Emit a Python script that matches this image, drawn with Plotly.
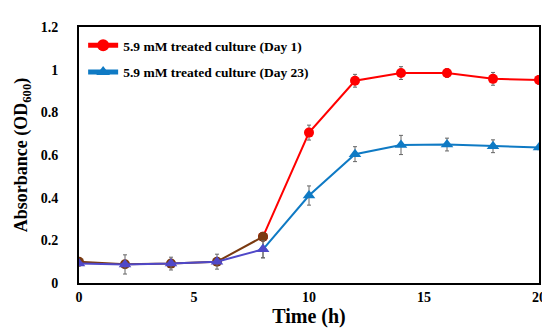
import plotly.graph_objects as go

time_h = [0, 2, 4, 6, 8, 10, 12, 14, 16, 18, 20]
day1 = [0.10, 0.088, 0.091, 0.10, 0.217, 0.705, 0.948, 0.984, 0.984, 0.957, 0.952]
day1_err = [0.01, 0.01, 0.01, 0.01, 0.01, 0.035, 0.03, 0.03, 0.02, 0.03, 0.02]
day23 = [0.091, 0.087, 0.091, 0.10, 0.158, 0.41, 0.604, 0.647, 0.649, 0.641, 0.635]
day23_err = [0.01, 0.045, 0.03, 0.035, 0.04, 0.045, 0.035, 0.045, 0.03, 0.03, 0.01]
names = ["5.9 mM treated culture (Day 1)", "5.9 mM treated culture (Day 23)"]

RED = "#ff0000"
BLUE = "#0f7ac4"
BROWN = "#7a3a10"
PURPLE = "#5048c8"
ERR = "#666666"
FONT = "Liberation Serif"

fig = go.Figure()
split = 5  # index where early (blended-looking) segment ends

fig.add_trace(go.Scatter(
    x=time_h[split-1:], y=day1[split-1:], mode="lines+markers",
    line=dict(color=RED, width=2), marker=dict(symbol="circle", size=10, color=RED),
    error_y=dict(type="data", array=day1_err[split-1:], color=ERR, thickness=1, width=2),
    showlegend=False))
fig.add_trace(go.Scatter(
    x=time_h[split-1:], y=day23[split-1:], mode="lines+markers",
    line=dict(color=BLUE, width=2), marker=dict(symbol="triangle-up", size=11, color=BLUE),
    error_y=dict(type="data", array=day23_err[split-1:], color=ERR, thickness=1, width=2),
    showlegend=False))
fig.add_trace(go.Scatter(
    x=time_h[:split], y=day1[:split], mode="lines+markers",
    line=dict(color=BROWN, width=2), marker=dict(symbol="circle", size=10, color=BROWN),
    error_y=dict(type="data", array=day1_err[:split], color=ERR, thickness=1, width=2),
    showlegend=False))
fig.add_trace(go.Scatter(
    x=time_h[:split], y=day23[:split], mode="lines+markers",
    line=dict(color=PURPLE, width=2), marker=dict(symbol="triangle-up", size=11, color=PURPLE),
    error_y=dict(type="data", array=day23_err[:split], color=ERR, thickness=1, width=2),
    showlegend=False))
fig.add_trace(go.Scatter(x=[None], y=[None], mode="lines+markers", name=names[0], legendgroup="a",
                         line=dict(color=RED, width=2), marker=dict(symbol="circle", size=9, color=RED)))
fig.add_trace(go.Scatter(x=[None], y=[None], mode="lines+markers", name=names[1], legendgroup="b",
                         line=dict(color=BLUE, width=2), marker=dict(symbol="triangle-up", size=10, color=BLUE)))

fig.update_layout(
    width=550, height=333,
    margin=dict(l=70, r=12, t=12, b=58),
    paper_bgcolor="white", plot_bgcolor="white",
    font=dict(family=FONT, color="black"),
    showlegend=True,
    legend=dict(x=0.009, y=0.988, xanchor="left", yanchor="top", bgcolor="rgba(0,0,0,0)",
                font=dict(family=FONT, size=13.5, color="black", weight="bold"),
                tracegroupgap=6, itemsizing="constant"),
    xaxis=dict(range=[0, 20], tickvals=[0, 5, 10, 15, 20], ticks="", showgrid=False, zeroline=False,
               showline=True, linecolor="black", linewidth=2, mirror=True,
               tickfont=dict(family=FONT, size=14, weight="bold"), ticklabelstandoff=0,
               title=dict(text="Time (h)", font=dict(family=FONT, size=20, weight="bold"), standoff=4)),
    yaxis=dict(range=[0, 1.2], tickvals=[0, 0.2, 0.4, 0.6, 0.8, 1.0, 1.2],
               ticktext=["0", "0.2", "0.4", "0.6", "0.8", "1", "1.2"], ticks="", showgrid=False,
               zeroline=False, showline=True, linecolor="black", linewidth=2, mirror=True,
               tickfont=dict(family=FONT, size=14, weight="bold"), ticklabelstandoff=16,
               title=dict(text="Absorbance (OD<sub>600</sub>)", font=dict(family=FONT, size=18, weight="bold"), standoff=8)),
)

fig.write_html("out.html")
